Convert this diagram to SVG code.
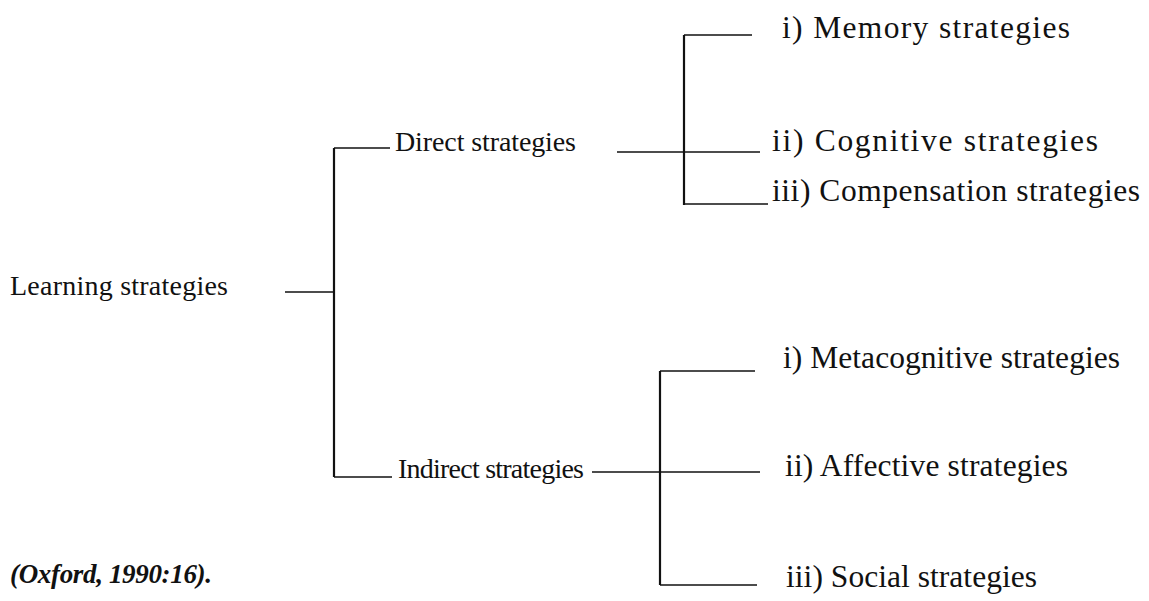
<svg xmlns="http://www.w3.org/2000/svg" width="1149" height="601" viewBox="0 0 1149 601">
<style>
text{font-family:"Liberation Serif","Times New Roman",serif;font-size:28px;fill:#111}
.r{font-size:31.5px}
.cite{font-weight:bold;font-style:italic;font-size:27px}
.ln{stroke:#111;stroke-width:1.6;fill:none}
.vl{stroke:#111;stroke-width:2.2;fill:none}
</style>
<rect width="1149" height="601" fill="#fff"/>
<g id="connectors">
<line class="ln" x1="285" y1="292" x2="334" y2="292"/>
<line class="vl" x1="334" y1="148" x2="334" y2="477"/>
<line class="ln" x1="334" y1="148" x2="390" y2="148"/>
<line class="ln" x1="334" y1="477" x2="392" y2="477"/>
<line class="ln" x1="617" y1="152" x2="760" y2="152"/>
<line class="vl" x1="684" y1="35" x2="684" y2="205"/>
<line class="ln" x1="684" y1="35" x2="752" y2="35"/>
<line class="ln" x1="685" y1="204" x2="768" y2="204"/>
<line class="ln" x1="592" y1="472" x2="760" y2="472"/>
<line class="vl" x1="660" y1="371" x2="660" y2="585"/>
<line class="ln" x1="660" y1="371" x2="755" y2="371"/>
<line class="ln" x1="660" y1="585" x2="757" y2="585"/>
</g>
<g id="learning"><text x="10" y="295" textLength="218" lengthAdjust="spacing">Learning strategies</text></g>
<g id="direct"><text x="395" y="151" textLength="181" lengthAdjust="spacing">Direct strategies</text></g>
<g id="indirect"><text x="398" y="478" textLength="186" lengthAdjust="spacing">Indirect strategies</text></g>
<g id="memory"><text class="r" x="782" y="38" textLength="288" lengthAdjust="spacing">i) Memory strategies</text></g>
<g id="cognitive"><text class="r" x="772" y="151" textLength="326" lengthAdjust="spacing">ii) Cognitive strategies</text></g>
<g id="compensation"><text class="r" x="772" y="201" textLength="368" lengthAdjust="spacing">iii) Compensation strategies</text></g>
<g id="metacognitive"><text class="r" x="783" y="368" textLength="337" lengthAdjust="spacing">i) Metacognitive strategies</text></g>
<g id="affective"><text class="r" x="785" y="476" textLength="283" lengthAdjust="spacing">ii) Affective strategies</text></g>
<g id="social"><text class="r" x="786" y="587" textLength="251" lengthAdjust="spacing">iii) Social strategies</text></g>
<g id="citation"><text class="cite" x="10" y="583" textLength="202" lengthAdjust="spacing">(Oxford, 1990:16).</text></g>
</svg>
